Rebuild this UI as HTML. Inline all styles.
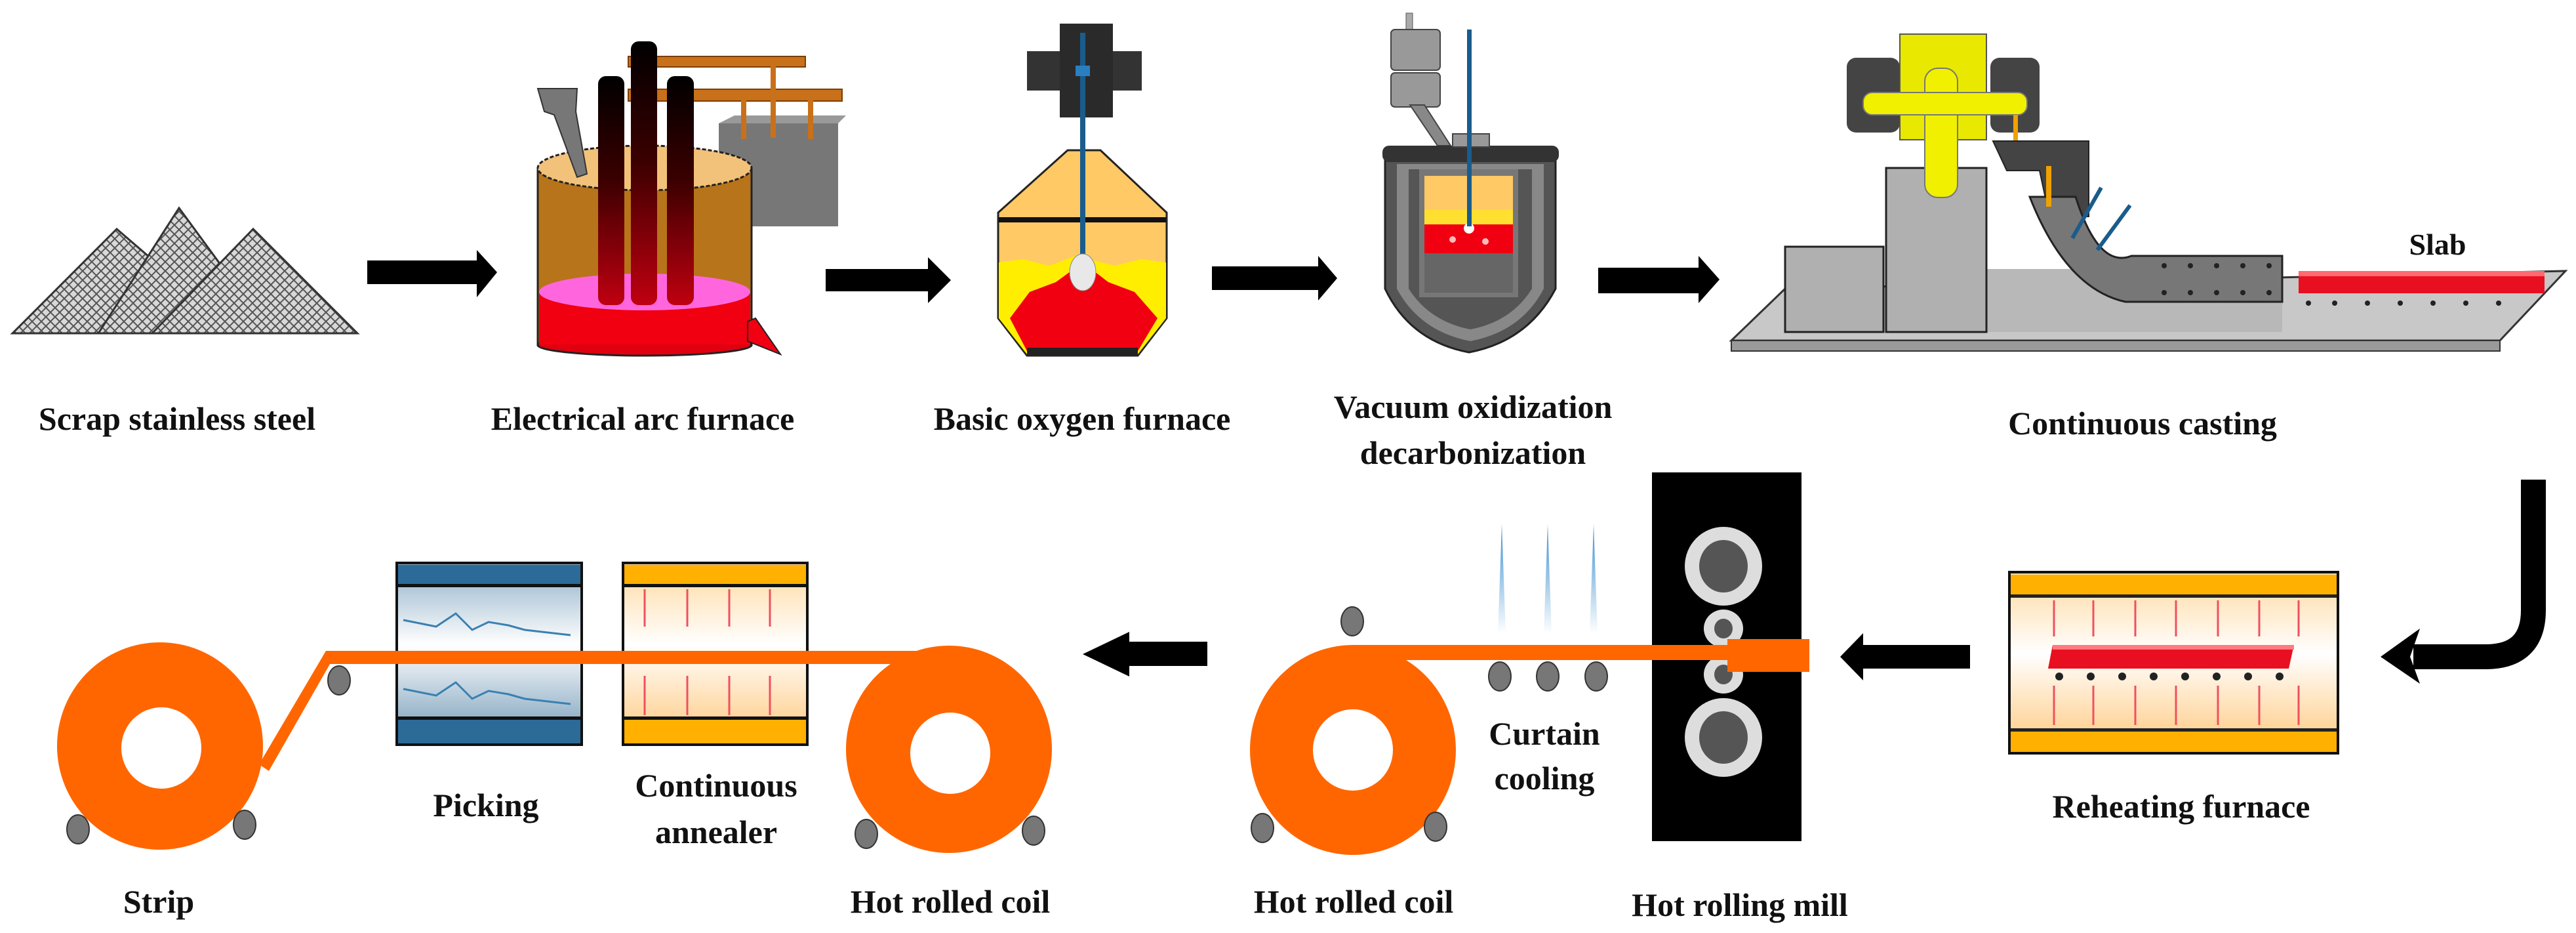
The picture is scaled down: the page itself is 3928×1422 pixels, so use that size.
<!DOCTYPE html>
<html><head><meta charset="utf-8"><style>html,body{margin:0;padding:0;background:#fff}svg{display:block}text{font-family:"Liberation Serif",serif;font-weight:bold;font-size:50px;fill:#111;text-anchor:middle}</style></head><body>
<svg width="3928" height="1422" viewBox="0 0 3928 1422" xmlns="http://www.w3.org/2000/svg">
<defs>
<pattern id="mesh" width="14" height="14" patternUnits="userSpaceOnUse"><rect width="14" height="14" fill="#d8d8d8"/><path d="M0 7 L7 0 L14 7 L7 14Z" fill="none" stroke="#555" stroke-width="2"/></pattern>
<linearGradient id="elec" x1="0" y1="0" x2="0" y2="1"><stop offset="0" stop-color="#000"/><stop offset="0.45" stop-color="#3a0000"/><stop offset="1" stop-color="#c00010"/></linearGradient>
<linearGradient id="pick" x1="0" y1="0" x2="0" y2="1"><stop offset="0" stop-color="#8fb0c8"/><stop offset="0.45" stop-color="#fff"/><stop offset="1" stop-color="#6f97b5"/></linearGradient>
<linearGradient id="ann" x1="0" y1="0" x2="0" y2="1"><stop offset="0" stop-color="#ffd9a0"/><stop offset="0.45" stop-color="#fff"/><stop offset="1" stop-color="#ffc77a"/></linearGradient>
<linearGradient id="water" x1="0" y1="0" x2="0" y2="1"><stop offset="0" stop-color="#3a8fd0"/><stop offset="1" stop-color="#fff"/></linearGradient>
</defs>

<!-- Scrap piles -->
<polygon points="19,508 178,349 363,508" fill="url(#mesh)" stroke="#333" stroke-width="3"/>
<polygon points="150,508 273,317 413,508" fill="url(#mesh)" stroke="#333" stroke-width="3"/>
<polygon points="232,508 386,349 545,508" fill="url(#mesh)" stroke="#333" stroke-width="3"/>

<!-- Arrow1 -->
<polygon points="560,397 727,397 727,381 758,415 727,453 727,433 560,433" fill="#000"/>

<!-- EAF -->
<rect x="1096" y="188" width="182" height="157" fill="#777"/>
<polygon points="1096,188 1120,176 1290,176 1278,188" fill="#999"/>
<rect x="958" y="86" width="270" height="16" fill="#c9701a" stroke="#7a3f00" stroke-width="2"/>
<rect x="958" y="136" width="326" height="18" fill="#c9701a" stroke="#7a3f00" stroke-width="2"/>
<rect x="1175" y="100" width="8" height="110" fill="#c9701a"/>
<rect x="1130" y="152" width="8" height="60" fill="#c9701a"/>
<rect x="1232" y="152" width="8" height="60" fill="#c9701a"/>
<rect x="820" y="256" width="326" height="270" fill="#b8741a" stroke="#222" stroke-width="3"/>
<ellipse cx="983" cy="526" rx="163" ry="16" fill="#e00010" stroke="#222" stroke-width="3"/>
<rect x="822" y="445" width="322" height="80" fill="#f00010"/>
<ellipse cx="983" cy="445" rx="161" ry="28" fill="#ff66dd"/>
<ellipse cx="983" cy="256" rx="163" ry="34" fill="#f2c27a" stroke="#222" stroke-width="3" stroke-dasharray="6,3"/>
<polygon points="1140,490 1152,485 1190,540 1140,520" fill="#f00010" stroke="#222" stroke-width="2"/>
<polygon points="820,135 880,135 878,170 895,265 880,270 845,175 830,170" fill="#777" stroke="#333" stroke-width="2"/>
<rect x="912" y="116" width="40" height="349" rx="12" fill="url(#elec)"/>
<rect x="962" y="63" width="40" height="402" rx="12" fill="url(#elec)"/>
<rect x="1017" y="116" width="41" height="349" rx="12" fill="url(#elec)"/>

<!-- Arrow2 -->
<polygon points="1259,410 1415,410 1415,392 1450,427 1415,462 1415,444 1259,444" fill="#000"/>

<!-- BOF -->
<rect x="1566" y="78" width="175" height="60" fill="#333"/>
<rect x="1616" y="36" width="81" height="143" fill="#2a2a2a"/>
<polygon points="1628,229 1678,229 1779,324 1779,485 1735,542 1566,542 1522,485 1522,324" fill="#ffc966" stroke="#222" stroke-width="3"/>
<rect x="1523" y="331" width="255" height="8" fill="#111"/>
<path d="M1523,400 L1560,395 L1600,405 L1640,390 L1700,405 L1740,395 L1778,400 L1778,485 L1735,540 L1566,540 L1523,485Z" fill="#ffee00"/>
<path d="M1540,485 L1570,445 L1610,430 L1651,400 L1690,430 L1730,445 L1765,485 L1735,535 L1566,535Z" fill="#f00010"/>
<rect x="1566" y="530" width="169" height="12" fill="#222"/>
<rect x="1647" y="50" width="8" height="350" fill="#1a5c8c"/>
<rect x="1640" y="100" width="22" height="16" fill="#2a7fc0"/>
<ellipse cx="1651" cy="415" rx="20" ry="28" fill="#e8e8e8" stroke="#888"/>

<!-- Arrow3 -->
<polygon points="1848,406 2010,406 2010,390 2039,424 2010,458 2010,442 1848,442" fill="#000"/>

<!-- VOD -->
<rect x="2144" y="20" width="10" height="28" fill="#aaa" stroke="#555"/>
<rect x="2121" y="45" width="75" height="62" rx="6" fill="#999" stroke="#444" stroke-width="2"/>
<rect x="2121" y="111" width="75" height="52" rx="6" fill="#999" stroke="#444" stroke-width="2"/>
<polygon points="2150,160 2172,160 2212,222 2192,222" fill="#888" stroke="#444" stroke-width="2"/>
<path d="M2112,245 L2372,245 L2372,440 Q2330,520 2240,537 Q2150,520 2112,440Z" fill="#555" stroke="#222" stroke-width="3"/>
<path d="M2130,250 L2354,250 L2354,440 Q2320,505 2242,520 Q2165,505 2130,440Z" fill="#888"/>
<path d="M2148,258 L2336,258 L2336,440 Q2305,490 2242,502 Q2180,490 2148,440Z" fill="#555"/>
<rect x="2164" y="258" width="151" height="195" fill="#777"/>
<rect x="2172" y="268" width="135" height="56" fill="#ffc966"/>
<rect x="2172" y="320" width="135" height="25" fill="#ffe030"/>
<rect x="2172" y="342" width="135" height="44" fill="#f00010"/>
<rect x="2172" y="386" width="135" height="60" fill="#666"/>
<circle cx="2240" cy="348" r="8" fill="#fff"/><circle cx="2215" cy="365" r="5" fill="#fbb"/><circle cx="2265" cy="368" r="5" fill="#fbb"/>
<rect x="2108" y="222" width="269" height="25" rx="10" fill="#333"/>
<rect x="2215" y="204" width="56" height="20" fill="#999" stroke="#444" stroke-width="2"/>
<rect x="2237" y="45" width="7" height="300" fill="#1a5c8c"/>

<!-- Arrow4 -->
<polygon points="2437,408 2590,408 2590,390 2622,426 2590,462 2590,447 2437,447" fill="#000"/>

<!-- Continuous casting -->
<polygon points="2640,519 2722,440 3912,413 3812,519" fill="#c8c8c8" stroke="#333" stroke-width="3"/>
<rect x="2640" y="519" width="1172" height="16" fill="#9a9a9a" stroke="#333" stroke-width="2"/>
<rect x="3029" y="410" width="451" height="96" fill="#b8b8b8"/>
<rect x="2722" y="376" width="150" height="130" fill="#b0b0b0" stroke="#222" stroke-width="3"/>
<rect x="2876" y="256" width="153" height="250" fill="#b0b0b0" stroke="#222" stroke-width="3"/>
<rect x="2816" y="88" width="81" height="114" rx="14" fill="#444"/>
<rect x="3035" y="88" width="75" height="114" rx="14" fill="#444"/>
<rect x="2897" y="52" width="132" height="161" fill="#e8e800" stroke="#555" stroke-width="2"/>
<rect x="2935" y="104" width="50" height="197" rx="20" fill="#f0f000" stroke="#777" stroke-width="2"/>
<rect x="2841" y="141" width="250" height="34" rx="14" fill="#f0f000" stroke="#777" stroke-width="2"/>
<rect x="3070" y="175" width="7" height="80" fill="#f0a000"/>
<polygon points="3039,215 3185,215 3185,330 3125,330 3110,260 3060,260" fill="#444" stroke="#222" stroke-width="2"/>
<path d="M3095,300 L3165,300 Q3200,410 3250,390 L3480,390 L3480,460 L3241,460 Q3150,440 3095,300Z" fill="#777" stroke="#222" stroke-width="3"/>
<rect x="3120" y="253" width="8" height="62" fill="#f0a000"/>
<g fill="#222"><circle cx="3300" cy="405" r="4"/><circle cx="3340" cy="405" r="4"/><circle cx="3380" cy="405" r="4"/><circle cx="3420" cy="405" r="4"/><circle cx="3460" cy="405" r="4"/><circle cx="3300" cy="446" r="4"/><circle cx="3340" cy="446" r="4"/><circle cx="3380" cy="446" r="4"/><circle cx="3420" cy="446" r="4"/><circle cx="3460" cy="446" r="4"/></g>
<line x1="3204" y1="286" x2="3160" y2="363" stroke="#1a5c8c" stroke-width="6"/>
<line x1="3248" y1="313" x2="3198" y2="381" stroke="#1a5c8c" stroke-width="6"/>
<rect x="3505" y="413" width="375" height="34" fill="#e81020"/>
<rect x="3505" y="413" width="375" height="8" fill="#ff6a70"/>
<g fill="#222"><circle cx="3520" cy="462" r="4"/><circle cx="3560" cy="462" r="4"/><circle cx="3610" cy="462" r="4"/><circle cx="3660" cy="462" r="4"/><circle cx="3710" cy="462" r="4"/><circle cx="3760" cy="462" r="4"/><circle cx="3810" cy="462" r="4"/></g>
<text x="3717" y="388" style="font-size:46px">Slab</text>

<!-- Row1 labels -->
<text x="270" y="655">Scrap stainless steel</text>
<text x="980" y="655">Electrical arc furnace</text>
<text x="1650" y="655">Basic oxygen furnace</text>
<text x="2246" y="637">Vacuum oxidization</text>
<text x="2246" y="707">decarbonization</text>
<text x="3267" y="662">Continuous casting</text>

<!-- Curved arrow -->
<path d="M3863,731 L3863,930 Q3863,1001 3790,1001 L3680,1001" fill="none" stroke="#000" stroke-width="38"/>
<polygon points="3690,958 3630,1001 3690,1042 3675,1001" fill="#000"/>

<!-- Reheating furnace -->
<rect x="3064" y="872" width="501" height="276" fill="url(#ann)" stroke="#111" stroke-width="4"/>
<rect x="3066" y="876" width="497" height="30" fill="#ffb000"/>
<rect x="3066" y="906" width="497" height="5" fill="#222"/>
<rect x="3066" y="1114" width="497" height="32" fill="#ffb000"/>
<rect x="3066" y="1110" width="497" height="5" fill="#222"/>
<g stroke="#f05060" stroke-width="3"><line x1="3132" y1="915" x2="3132" y2="970"/><line x1="3192" y1="915" x2="3192" y2="970"/><line x1="3256" y1="915" x2="3256" y2="970"/><line x1="3318" y1="915" x2="3318" y2="970"/><line x1="3382" y1="915" x2="3382" y2="970"/><line x1="3445" y1="915" x2="3445" y2="970"/><line x1="3505" y1="915" x2="3505" y2="970"/><line x1="3132" y1="1045" x2="3132" y2="1105"/><line x1="3192" y1="1045" x2="3192" y2="1105"/><line x1="3256" y1="1045" x2="3256" y2="1105"/><line x1="3318" y1="1045" x2="3318" y2="1105"/><line x1="3382" y1="1045" x2="3382" y2="1105"/><line x1="3445" y1="1045" x2="3445" y2="1105"/><line x1="3505" y1="1045" x2="3505" y2="1105"/></g>
<polygon points="3130,983 3498,983 3490,1019 3123,1019" fill="#e81020"/>
<rect x="3130" y="983" width="368" height="7" fill="#ff7a80"/>
<g fill="#222"><circle cx="3140" cy="1031" r="6"/><circle cx="3188" cy="1031" r="6"/><circle cx="3236" cy="1031" r="6"/><circle cx="3284" cy="1031" r="6"/><circle cx="3332" cy="1031" r="6"/><circle cx="3380" cy="1031" r="6"/><circle cx="3428" cy="1031" r="6"/><circle cx="3476" cy="1031" r="6"/></g>

<!-- Arrow left (mill) -->
<polygon points="3004,983 2841,983 2841,965 2806,1001 2841,1037 2841,1019 3004,1019" fill="#000"/>

<!-- Hot rolling mill -->
<rect x="2519" y="720" width="228" height="562" fill="#000"/>
<ellipse cx="2628" cy="863" rx="59" ry="60" fill="#ddd"/><ellipse cx="2628" cy="863" rx="37" ry="40" fill="#555"/>
<ellipse cx="2628" cy="958" rx="30" ry="29" fill="#ddd"/><ellipse cx="2628" cy="958" rx="14" ry="15" fill="#555"/>
<ellipse cx="2628" cy="1028" rx="30" ry="29" fill="#ddd"/><ellipse cx="2628" cy="1028" rx="14" ry="15" fill="#555"/>
<ellipse cx="2628" cy="1124" rx="59" ry="60" fill="#ddd"/><ellipse cx="2628" cy="1124" rx="37" ry="40" fill="#555"/>
<rect x="2634" y="974" width="125" height="50" fill="#ff6600"/>

<!-- Curtain cooling water -->
<path d="M2290,799 L2284,965 L2296,965Z" fill="url(#water)"/>
<path d="M2360,799 L2354,965 L2366,965Z" fill="url(#water)"/>
<path d="M2430,799 L2424,965 L2436,965Z" fill="url(#water)"/>

<!-- Coil 2 -->
<rect x="2063" y="983" width="575" height="23" fill="#ff6600"/>
<ellipse cx="2063" cy="1143" rx="157" ry="160" fill="#ff6600"/>
<ellipse cx="2063" cy="1143" rx="61" ry="62" fill="#fff"/>
<g fill="#777" stroke="#333" stroke-width="2"><ellipse cx="2062" cy="947" rx="17" ry="22"/><ellipse cx="2287" cy="1031" rx="17" ry="22"/><ellipse cx="2360" cy="1031" rx="17" ry="22"/><ellipse cx="2434" cy="1031" rx="17" ry="22"/><ellipse cx="2189" cy="1260" rx="17" ry="22"/><ellipse cx="1925" cy="1262" rx="17" ry="22"/></g>

<!-- Arrow left (row2 middle) -->
<polygon points="1841,978 1722,978 1722,963 1651,997 1722,1031 1722,1015 1841,1015" fill="#000"/>

<!-- Picking -->
<rect x="605" y="858" width="282" height="277" fill="url(#pick)" stroke="#111" stroke-width="4"/>
<rect x="607" y="861" width="278" height="29" fill="#2c6a98"/>
<rect x="607" y="890" width="278" height="5" fill="#111"/>
<rect x="607" y="1096" width="278" height="37" fill="#2c6a98"/>
<rect x="607" y="1092" width="278" height="5" fill="#111"/>
<polyline points="615,945 640,950 665,955 695,935 720,960 745,948 775,953 800,960 870,968" fill="none" stroke="#3a80b0" stroke-width="3"/>
<polyline points="615,1050 640,1055 665,1060 695,1040 720,1065 745,1053 775,1058 800,1065 870,1073" fill="none" stroke="#3a80b0" stroke-width="3"/>

<!-- Annealer -->
<rect x="950" y="858" width="281" height="277" fill="url(#ann)" stroke="#111" stroke-width="4"/>
<rect x="952" y="861" width="277" height="29" fill="#ffb000"/>
<rect x="952" y="890" width="277" height="5" fill="#111"/>
<rect x="952" y="1096" width="277" height="37" fill="#ffb000"/>
<rect x="952" y="1092" width="277" height="5" fill="#111"/>
<g stroke="#f05060" stroke-width="3"><line x1="983" y1="898" x2="983" y2="955"/><line x1="1048" y1="898" x2="1048" y2="955"/><line x1="1112" y1="898" x2="1112" y2="955"/><line x1="1174" y1="898" x2="1174" y2="955"/><line x1="983" y1="1030" x2="983" y2="1090"/><line x1="1048" y1="1030" x2="1048" y2="1090"/><line x1="1112" y1="1030" x2="1112" y2="1090"/><line x1="1174" y1="1030" x2="1174" y2="1090"/></g>

<!-- Strip line -->
<rect x="497" y="992" width="950" height="20" fill="#ff6600"/>
<polygon points="497,992 510,1000 410,1175 395,1165" fill="#ff6600"/>

<!-- Strip coil -->
<ellipse cx="244" cy="1137" rx="157" ry="158" fill="#ff6600"/>
<ellipse cx="246" cy="1140" rx="61" ry="62" fill="#fff"/>
<!-- Hot rolled coil 1 -->
<ellipse cx="1447" cy="1142" rx="157" ry="158" fill="#ff6600"/>
<ellipse cx="1449" cy="1148" rx="61" ry="62" fill="#fff"/>
<g fill="#777" stroke="#333" stroke-width="2"><ellipse cx="119" cy="1264" rx="17" ry="22"/><ellipse cx="373" cy="1257" rx="17" ry="22"/><ellipse cx="517" cy="1037" rx="17" ry="22"/><ellipse cx="1321" cy="1271" rx="17" ry="22"/><ellipse cx="1576" cy="1266" rx="17" ry="22"/></g>

<!-- Row2 labels -->
<text x="242" y="1391">Strip</text>
<text x="741" y="1244">Picking</text>
<text x="1092" y="1214">Continuous</text>
<text x="1092" y="1285">annealer</text>
<text x="1449" y="1391">Hot rolled coil</text>
<text x="2064" y="1391">Hot rolled coil</text>
<text x="2355" y="1135">Curtain</text>
<text x="2355" y="1203">cooling</text>
<text x="2653" y="1396">Hot rolling mill</text>
<text x="3326" y="1246">Reheating furnace</text>
</svg>
</body></html>
